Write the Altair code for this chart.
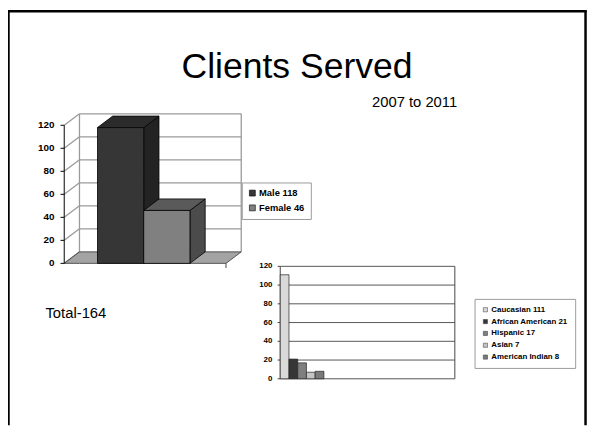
import altair as alt
import pandas as pd

# ---------------- data ----------------
TITLE = "Clients Served"
SUBTITLE = "2007 to 2011"

GENDER = ["Male", "Female"]
GENDER_VALUES = [118, 46]
GENDER_FRONT = ["#363636", "#808080"]
GENDER_TOP = ["#2b2b2b", "#5a5a5a"]
GENDER_SIDE = ["#232323", "#4b4b4b"]

ETHNICITY = ["Caucasian", "African American", "Hispanic", "Asian", "American Indian"]
ETH_VALUES = [111, 21, 17, 7, 8]
ETH_COLORS = ["#d9d9d9", "#363636", "#7f7f7f", "#c4c4c4", "#7a7a7a"]

Y_TICKS = [0, 20, 40, 60, 80, 100, 120]

TOTAL_TEXT = f"Total-{sum(GENDER_VALUES)}"

# ---------------- layout constants ----------------
W, H = 588, 420
FONT = "Liberation Sans"
YMAX = Y_TICKS[-1]

# chart 1 (pseudo 3-D columns)
LEFT, RIGHT = -0.72, 2.78
DX, DY = 0.33, 10.0          # depth of the 3-D effect in data units
TICK1, PAD1 = 0.08, 0.13     # tick length / label gap in data units
X1 = alt.Scale(domain=[LEFT, RIGHT], range=[57, 221], nice=False, zero=False)
Y1 = alt.Scale(domain=[0, YMAX], range=[256, 116], nice=False, zero=False)

# chart 2 (ethnicity columns)
XMAX2 = 20
TICK2, PAD2 = 0.3, 0.6
X2 = alt.Scale(domain=[0, XMAX2], range=[276, 453], nice=False, zero=False)
Y2 = alt.Scale(domain=[0, YMAX], range=[373, 259], nice=False, zero=False)


def xq(field, scale):
    return alt.X(field, type="quantitative", scale=scale, axis=None)


def yq(field, scale):
    return alt.Y(field, type="quantitative", scale=scale, axis=None)


# ---------------- chart 1 tables ----------------
g = pd.DataFrame({"cat": GENDER, "value": GENDER_VALUES,
                  "front": GENDER_FRONT, "top": GENDER_TOP, "side": GENDER_SIDE})
g["label"] = g["cat"] + " " + g["value"].astype(str)
g["start"] = list(range(len(g)))
g["end"] = g["start"] + 1

side_rows, top_rows = [], []
for _, r in g.iterrows():
    v = r["value"]
    side_rows += [
        {"cat": r["cat"], "x": r["end"], "y": v, "y2": 0, "fill": r["side"]},
        {"cat": r["cat"], "x": r["end"] + DX, "y": v + DY, "y2": DY, "fill": r["side"]},
    ]
    top_rows += [
        {"cat": r["cat"], "x": r["start"], "y": v, "y2": v, "fill": r["top"]},
        {"cat": r["cat"], "x": r["start"] + DX, "y": v + DY, "y2": v, "fill": r["top"]},
        {"cat": r["cat"], "x": r["end"], "y": v + DY, "y2": v, "fill": r["top"]},
        {"cat": r["cat"], "x": r["end"] + DX, "y": v + DY, "y2": v + DY, "fill": r["top"]},
    ]
sides = pd.DataFrame(side_rows)
tops = pd.DataFrame(top_rows)

floor = pd.DataFrame({
    "x": [LEFT, LEFT + DX, RIGHT, RIGHT + DX],
    "y": [0, DY, DY, DY],
    "y2": [0, 0, 0, DY],
})
ticks1 = pd.DataFrame({"v": Y_TICKS})
ticks1["x"] = LEFT
ticks1["xs"] = LEFT + DX
ticks1["xt"] = LEFT - TICK1
ticks1["xl"] = LEFT - TICK1 - PAD1
ticks1["vb"] = ticks1["v"] + DY
ticks1["xr"] = RIGHT + DX
back_grid = ticks1[ticks1["v"] > 0]
edges1 = pd.DataFrame({"x": [LEFT + DX, RIGHT + DX], "y": [DY, DY], "y2": [YMAX + DY, YMAX + DY]})
axis1 = pd.DataFrame({"x": [LEFT], "y": [0], "y2": [YMAX]})
xtick1 = pd.DataFrame({"x": [RIGHT], "y": [0], "y2": [-4]})

GRID = dict(color="#9a9a9a", strokeWidth=1.3)
c1_side_grid = alt.Chart(ticks1).mark_rule(**GRID).encode(
    x=xq("x", X1), x2="xs:Q", y=yq("v", Y1), y2="vb:Q")
c1_back_grid = alt.Chart(back_grid).mark_rule(**GRID).encode(
    x=xq("xs", X1), x2="xr:Q", y=yq("vb", Y1))
c1_back_edges = alt.Chart(edges1).mark_rule(**GRID).encode(
    x=xq("x", X1), y=yq("y", Y1), y2="y2:Q")
c1_floor = alt.Chart(floor).mark_area(fill="#a3a3a3", stroke="#333333", strokeWidth=0.8,
                                      opacity=1).encode(
    x=xq("x", X1), y=yq("y", Y1), y2="y2:Q")
c1_xtick = alt.Chart(xtick1).mark_rule(color="#444444", strokeWidth=1).encode(
    x=xq("x", X1), y=yq("y", Y1), y2="y2:Q")
c1_axis = alt.Chart(axis1).mark_rule(color="black", strokeWidth=1).encode(
    x=xq("x", X1), y=yq("y", Y1), y2="y2:Q")
c1_ticks = alt.Chart(ticks1).mark_rule(color="black", strokeWidth=1).encode(
    x=xq("xt", X1), x2="x:Q", y=yq("v", Y1))
c1_labels = alt.Chart(ticks1).mark_text(font=FONT, fontSize=10, fontWeight="bold",
                                        align="right", baseline="middle", color="black").encode(
    x=xq("xl", X1), y=yq("v", Y1), text="v:Q")
c1_sides = alt.Chart(sides).mark_area(stroke="black", strokeWidth=0.8, opacity=1).encode(
    x=xq("x", X1), y=yq("y", Y1), y2="y2:Q",
    fill=alt.Fill("fill:N", scale=None), detail="cat:N")
c1_tops = alt.Chart(tops).mark_area(stroke="black", strokeWidth=0.8, opacity=1).encode(
    x=xq("x", X1), y=yq("y", Y1), y2="y2:Q",
    fill=alt.Fill("fill:N", scale=None), detail="cat:N")
legend1 = alt.Legend(orient="none", legendX=237, legendY=174, title=None,
                     strokeColor="#9a9a9a", fillColor="white", padding=6,
                     symbolType="square", symbolSize=36, symbolStrokeColor="black",
                     symbolStrokeWidth=0.6, labelFont=FONT, labelFontSize=9.5,
                     labelFontWeight="bold", labelColor="black", labelOffset=2,
                     rowPadding=4, labelLimit=300)
c1_fronts = alt.Chart(g).mark_rect(stroke="black", strokeWidth=0.8, opacity=1).encode(
    x=xq("start", X1), x2="end:Q",
    y=yq("value", Y1), y2=alt.Y2(datum=0),
    color=alt.Color("label:N", scale=alt.Scale(domain=list(g["label"]), range=GENDER_FRONT),
                    legend=legend1, sort=list(g["label"])))

chart1 = alt.layer(c1_side_grid, c1_back_grid, c1_back_edges, c1_floor, c1_xtick, c1_axis,
                   c1_ticks, c1_labels, c1_sides, c1_tops, c1_fronts)

# ---------------- chart 2 tables ----------------
e = pd.DataFrame({"cat": ETHNICITY, "value": ETH_VALUES})
e["label"] = e["cat"] + " " + e["value"].astype(str)
e["start"] = list(range(len(e)))
e["end"] = e["start"] + 1

ticks2 = pd.DataFrame({"v": Y_TICKS})
ticks2["x"] = 0
ticks2["xr"] = XMAX2
ticks2["xt"] = -TICK2
ticks2["xl"] = -TICK2 - PAD2
box2 = pd.DataFrame({"x": [0, XMAX2], "y": [0, 0], "y2": [YMAX, YMAX]})

c2_grid = alt.Chart(ticks2).mark_rule(color="#555555", strokeWidth=1).encode(
    x=xq("x", X2), x2="xr:Q", y=yq("v", Y2))
c2_box = alt.Chart(box2).mark_rule(color="#444444", strokeWidth=1).encode(
    x=xq("x", X2), y=yq("y", Y2), y2="y2:Q")
c2_ticks = alt.Chart(ticks2).mark_rule(color="#444444", strokeWidth=1).encode(
    x=xq("xt", X2), x2="x:Q", y=yq("v", Y2))
c2_labels = alt.Chart(ticks2).mark_text(font=FONT, fontSize=8, fontWeight="bold",
                                        align="right", baseline="middle", color="black").encode(
    x=xq("xl", X2), y=yq("v", Y2), text="v:Q")
legend2 = alt.Legend(orient="none", legendX=473, legendY=292, title=None,
                     strokeColor="#9a9a9a", fillColor="white", padding=7,
                     symbolType="square", symbolSize=18, symbolStrokeColor="#333333",
                     symbolStrokeWidth=0.5, labelFont=FONT, labelFontSize=8,
                     labelFontWeight="bold", labelColor="black", labelOffset=2,
                     rowPadding=4, labelLimit=300)
c2_bars = alt.Chart(e).mark_rect(stroke="#222222", strokeWidth=0.7, opacity=1).encode(
    x=xq("start", X2), x2="end:Q",
    y=yq("value", Y2), y2=alt.Y2(datum=0),
    color=alt.Color("label:N", scale=alt.Scale(domain=list(e["label"]), range=ETH_COLORS),
                    legend=legend2, sort=list(e["label"])))

chart2 = alt.layer(c2_grid, c2_box, c2_ticks, c2_labels, c2_bars)

# ---------------- slide texts and frame ----------------
one = alt.Data(values=[{}])
title = alt.Chart(pd.DataFrame({"t": [TITLE]})).mark_text(
    font=FONT, fontSize=36, align="center", baseline="alphabetic", color="black").encode(
    x=alt.value(293), y=alt.value(68), text="t:N")
subtitle = alt.Chart(pd.DataFrame({"t": [SUBTITLE]})).mark_text(
    font=FONT, fontSize=15, align="left", baseline="alphabetic", color="black").encode(
    x=alt.value(369), y=alt.value(97), text="t:N")
total = alt.Chart(pd.DataFrame({"t": [TOTAL_TEXT]})).mark_text(
    font=FONT, fontSize=15, align="left", baseline="alphabetic", color="black").encode(
    x=alt.value(38), y=alt.value(311), text="t:N")

FRAME = dict(color="black", strokeWidth=2.5)
frame_left = alt.Chart(one).mark_rule(**FRAME).encode(
    x=alt.value(0.5), y=alt.value(0), y2=alt.value(H))
frame_right = alt.Chart(one).mark_rule(**FRAME).encode(
    x=alt.value(585.5), y=alt.value(0), y2=alt.value(H))
frame_top = alt.Chart(one).mark_rule(**FRAME).encode(
    y=alt.value(0.5), x=alt.value(0), x2=alt.value(586.75))

chart = alt.layer(
    chart1, chart2, title, subtitle, total, frame_left, frame_right, frame_top
).resolve_scale(
    x="independent", y="independent", color="independent"
).properties(
    width=W, height=H, padding=0, autosize=alt.AutoSizeParams(type="none"),
    background="white"
).configure(font=FONT).configure_view(stroke=None)

chart.save("out.html", embed_options={"renderer": "svg", "actions": False})
